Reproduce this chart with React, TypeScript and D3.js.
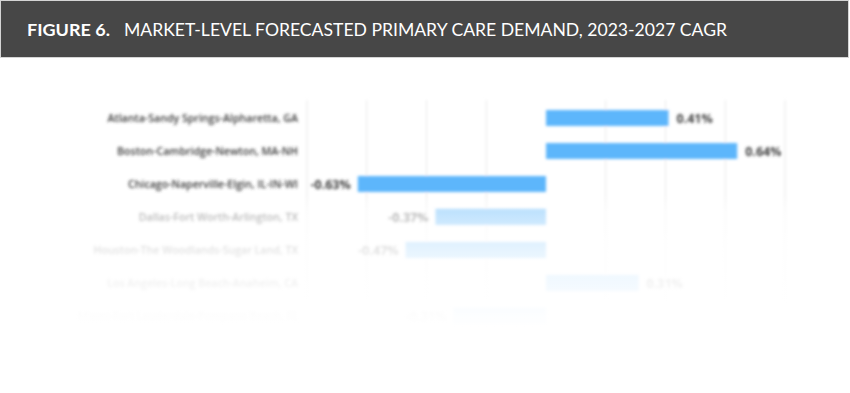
import React from 'react';
import * as d3 from 'd3';

// data
const markets = [
  'Atlanta-Sandy Springs-Alpharetta, GA',
  'Boston-Cambridge-Newton, MA-NH',
  'Chicago-Naperville-Elgin, IL-IN-WI',
  'Dallas-Fort Worth-Arlington, TX',
  'Houston-The Woodlands-Sugar Land, TX',
  'Los Angeles-Long Beach-Anaheim, CA',
  'Miami-Fort Lauderdale-Pompano Beach, FL',
];
const cagr = [0.41, 0.64, -0.63, -0.37, -0.47, 0.31, -0.31];
const gridTicks = [-0.8, -0.6, -0.4, -0.2, 0.2, 0.4, 0.6, 0.8];

const titleBold = 'FIGURE 6.';
const titleRest = 'MARKET-LEVEL FORECASTED PRIMARY CARE DEMAND, 2023-2027 CAGR';

const pct = (v: number) => d3.format('.2f')(v).replace('\u2212', '-') + '%';

export default function App() {
  const width = 850;
  const height = 393;
  const barH = 16;
  const font = "'Open Sans', 'DejaVu Sans', sans-serif";
  const titleFont = "Lato, 'Open Sans', sans-serif";

  const x = d3.scaleLinear().domain([-0.8, 0.8]).range([307, 785]);
  const y = d3.scalePoint<string>().domain(markets).range([118, 316]);

  const rows = markets.map((m, i) => ({ name: m, value: cagr[i] }));

  // white fade over the lower rows: [y, opacity]
  const fadeTop = 194;
  const fadeBottom = 340;
  const fadeStops: [number, number][] = [
    [194, 0],
    [211, 0.6],
    [227, 0.72],
    [253, 0.86],
    [287, 0.93],
    [316, 0.985],
    [340, 1],
  ];

  return (
    <svg
      width={width}
      height={height}
      style={{ position: 'absolute', left: 0, top: 0, background: '#fff' }}
    >
      <defs>
        <filter id="soft" x="-5%" y="-20%" width="110%" height="140%">
          <feGaussianBlur stdDeviation="1.6" />
        </filter>
        <linearGradient id="fade" gradientUnits="userSpaceOnUse" x1="0" y1={fadeTop} x2="0" y2={fadeBottom}>
          {fadeStops.map(([py, o]) => (
            <stop
              key={py}
              offset={(py - fadeTop) / (fadeBottom - fadeTop)}
              stopColor="#fff"
              stopOpacity={o}
            />
          ))}
        </linearGradient>
      </defs>

      {/* header band */}
      <rect x={0.5} y={0.5} width={848} height={57} fill="#474747" stroke="#d4d4d4" />
      <text x={27} y={36} fill="#fff" fontFamily={titleFont} fontSize={17}>
        <tspan fontWeight={700} textLength={83} lengthAdjust="spacingAndGlyphs">
          {titleBold}
        </tspan>
        <tspan x={124} fontWeight={400} textLength={603} lengthAdjust="spacingAndGlyphs">
          {titleRest}
        </tspan>
      </text>

      <g filter="url(#soft)">
        {gridTicks.map((t) => (
          <line key={t} x1={x(t)} x2={x(t)} y1={100} y2={300} stroke="#e8e8e8" strokeWidth={1} />
        ))}

        {rows.map((d) => {
          const cy = y(d.name) as number;
          const x0 = x(Math.min(0, d.value));
          const x1 = x(Math.max(0, d.value));
          const pos = d.value >= 0;
          return (
            <g key={d.name}>
              <text
                x={298}
                y={cy}
                dy="0.35em"
                textAnchor="end"
                fontFamily={font}
                fontSize={10.6}
                fontWeight={600}
                fill="#3a3a3a"
              >
                {d.name}
              </text>
              <rect x={x0} y={cy - barH / 2} width={x1 - x0} height={barH} fill="#5db6fb" />
              <text
                x={pos ? x1 + 8 : x0 - 7}
                y={cy}
                dy="0.38em"
                textAnchor={pos ? 'start' : 'end'}
                fontFamily={font}
                fontSize={12.5}
                fontWeight={700}
                fill="#3e3e3e"
              >
                {pct(d.value)}
              </text>
            </g>
          );
        })}
      </g>

      {/* fade-out towards the bottom */}
      <rect x={0} y={fadeTop} width={width} height={height - fadeTop} fill="url(#fade)" />
    </svg>
  );
}
